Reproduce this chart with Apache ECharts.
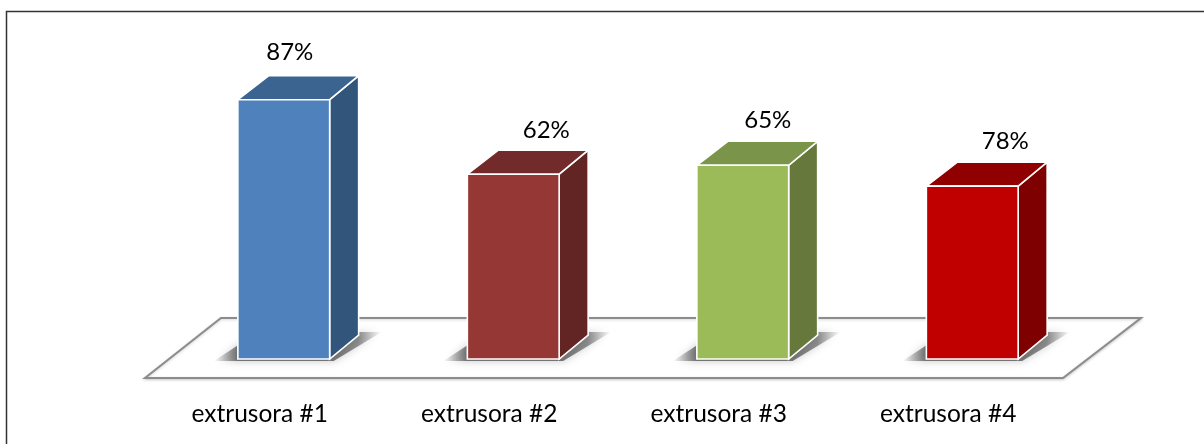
<!DOCTYPE html>
<html>
<head>
<meta charset="utf-8">
<style>html,body{margin:0;padding:0;background:#fff}#c{width:1204px;height:444px}</style>
<script src="https://cdn.jsdelivr.net/npm/echarts@6/dist/echarts.min.js"></script>
</head>
<body>
<div id="c"></div>
<script>
const categories = ['extrusora #1', 'extrusora #2', 'extrusora #3', 'extrusora #4'];
// Height of each drawn bar, read against the first bar's scale.
const barHeights = [87, 62, 65, 58];
// Percent printed above each bar (the fourth bar is drawn shorter than its label).
const printedPercents = [87, 62, 65, 78];
const frontColors = ['#4F81BD', '#953735', '#9BBB59', '#C00000'];
const topColors = ['#3C6491', '#722B2A', '#7A9449', '#900000'];
const sideColors = ['#32557C', '#632523', '#66783C', '#7F0000'];
const labelShift = [30, 57, 49, 57];
const labelRise = [47, 44, 45, 45];

const DX = 29, DY = 24;   // bar depth
const FONT = 'Lato, Carlito, sans-serif';

function renderFloor(params, api) {
  const cs = params.coordSys;
  const y = api.coord([0, 0])[1];
  const fy = y + 19, by = y - 41;
  const l = cs.x, r = cs.x + cs.width;
  return {
    type: 'polygon',
    shape: { points: [[l, fy], [r, fy], [r + 78, by], [l + 76, by]] },
    style: { fill: '#fff', stroke: '#8C8C8C', lineWidth: 2,
      shadowBlur: 3, shadowColor: 'rgba(0,0,0,0.18)', shadowOffsetY: 1 },
    silent: true
  };
}

function renderBar(params, api) {
  const i = params.dataIndex;
  const p = api.coord([api.value(0), api.value(1)]);
  const base = api.coord([api.value(0), 0]);
  const w = api.size([1, 0])[0] * 0.4;
  const x0 = p[0] + 24 - w / 2, x1 = x0 + w;
  const t = p[1], b = base[1];
  const line = { stroke: '#fff', lineWidth: 1.6, lineJoin: 'miter' };
  return {
    type: 'group',
    children: [
      { type: 'polygon',
        shape: { points: [[x0 - 24, b + 2], [x0 + 2, b - 15], [x1 + 30, b - DY - 3], [x1 + 52, b - DY - 3], [x1 + 4, b + 2]] },
        style: { fill: { type: 'linear', x: 0, y: 0, x2: 1, y2: 0, colorStops: [
          { offset: 0, color: 'rgba(80,80,80,0)' },
          { offset: 0.14, color: 'rgba(80,80,80,0.75)' },
          { offset: 0.72, color: 'rgba(80,80,80,0.75)' },
          { offset: 0.86, color: 'rgba(80,80,80,0.6)' },
          { offset: 1, color: 'rgba(80,80,80,0)' }] },
          shadowBlur: 8, shadowColor: 'rgba(120,120,120,0.55)' } },
      { type: 'polygon',
        shape: { points: [[x1, t], [x1 + DX, t - DY], [x1 + DX, b - DY], [x1, b]] },
        style: Object.assign({ fill: sideColors[i] }, line) },
      { type: 'polygon',
        shape: { points: [[x0, t], [x0 + DX + 2, t - DY], [x1 + DX, t - DY], [x1, t]] },
        style: Object.assign({ fill: topColors[i] }, line) },
      { type: 'rect',
        shape: { x: x0, y: t, width: w, height: b - t },
        style: Object.assign({ fill: frontColors[i] }, line) },
      { type: 'text',
        style: { x: p[0] + labelShift[i], y: t - labelRise[i], text: printedPercents[i] + '%',
          fill: '#000', font: '24px ' + FONT, align: 'center', verticalAlign: 'middle' } }
    ]
  };
}

const chart = echarts.init(document.getElementById('c'), null, { renderer: 'canvas' });
chart.setOption({
  animation: false,
  backgroundColor: '#fff',
  grid: { left: 145, width: 918, top: 61, height: 298 },
  graphic: [
    { type: 'polyline', shape: { points: [[6.5, 444], [6.5, 11.5], [1204, 11.5]] },
      style: { stroke: '#333', lineWidth: 1.5, fill: 'none' }, silent: true }
  ],
  xAxis: {
    type: 'category', data: categories,
    axisLine: { show: false }, axisTick: { show: false }, splitLine: { show: false },
    axisLabel: { margin: 43, color: '#000', fontFamily: FONT, fontSize: 24.5 }
  },
  yAxis: { type: 'value', min: 0, max: 100, show: false },
  series: [
    { type: 'custom', z: 1, renderItem: renderFloor, data: [[0, 0]], silent: true,
      encode: { x: 0, y: 1 }, clip: false },
    { type: 'custom', z: 2, renderItem: renderBar, silent: true, clip: false,
      encode: { x: 0, y: 1 },
      data: categories.map((c, i) => [i, barHeights[i]]) }
  ]
});
</script>
</body>
</html>
